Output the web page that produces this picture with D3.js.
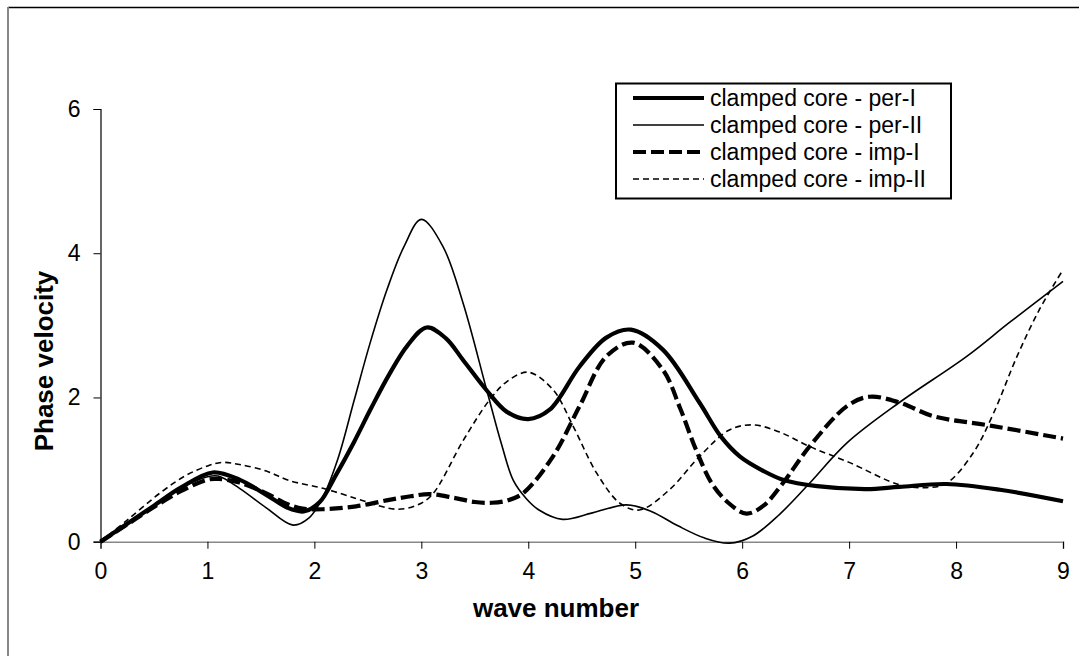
<!DOCTYPE html>
<html>
<head>
<meta charset="utf-8">
<script src="https://cdn.jsdelivr.net/npm/d3@7"></script>
<style>
  html, body { margin: 0; padding: 0; background: #fff; }
  svg { display: block; font-family: "Liberation Sans", Arial, sans-serif; }
</style>
</head>
<body>
<svg id="chart" width="1079" height="656"></svg>
<script>
// ---- data ----
const xTicks = [0, 1, 2, 3, 4, 5, 6, 7, 8, 9];
const yTicks = [0, 2, 4, 6];
const xTitle = "wave number";
const yTitle = "Phase velocity";
const seriesNames = ["clamped core - per-I", "clamped core - per-II", "clamped core - imp-I", "clamped core - imp-II"];

const perI = [[0,0],[0.25,0.25],[0.5,0.5],[0.75,0.75],[1.05,0.96],[1.3,0.86],[1.55,0.65],[1.75,0.47],[1.9,0.42],[2.05,0.55],[2.2,0.92],[2.37,1.38],[2.53,1.85],[2.7,2.32],[2.87,2.72],[3.05,2.97],[3.23,2.82],[3.39,2.52],[3.61,2.1],[3.8,1.8],[4.0,1.7],[4.2,1.83],[4.48,2.43],[4.73,2.83],[4.96,2.94],[5.26,2.66],[5.6,1.93],[5.8,1.46],[5.98,1.18],[6.2,0.98],[6.38,0.86],[6.7,0.77],[7.16,0.73],[7.47,0.76],[7.91,0.8],[8.41,0.72],[9.0,0.56]];

const perII = [[0,0],[0.25,0.25],[0.5,0.5],[0.75,0.74],[1.0,0.9],[1.1,0.91],[1.3,0.74],[1.55,0.47],[1.8,0.23],[1.95,0.33],[2.08,0.62],[2.22,1.15],[2.37,1.95],[2.52,2.75],[2.68,3.5],[2.84,4.1],[3.0,4.47],[3.2,4.1],[3.39,3.31],[3.61,2.11],[3.75,1.35],[3.86,0.85],[3.98,0.6],[4.1,0.44],[4.32,0.31],[4.6,0.4],[4.92,0.51],[5.15,0.42],[5.4,0.22],[5.65,0.05],[5.88,-0.02],[6.1,0.08],[6.35,0.38],[6.63,0.81],[6.98,1.37],[7.47,1.93],[8.1,2.57],[8.5,3.04],[9.0,3.61]];

const impI = [[0,0],[0.25,0.24],[0.5,0.48],[0.75,0.7],[1.0,0.86],[1.1,0.87],[1.3,0.82],[1.55,0.67],[1.75,0.52],[1.89,0.46],[2.08,0.45],[2.39,0.49],[2.7,0.58],[2.9,0.63],[3.08,0.66],[3.3,0.61],[3.5,0.55],[3.66,0.54],[3.8,0.57],[3.95,0.67],[4.23,1.18],[4.48,1.88],[4.73,2.57],[4.98,2.76],[5.26,2.38],[5.42,1.85],[5.57,1.27],[5.72,0.8],[5.87,0.54],[6.04,0.39],[6.2,0.5],[6.38,0.81],[6.63,1.32],[6.98,1.88],[7.19,2.01],[7.47,1.93],[7.79,1.74],[8.32,1.61],[9.0,1.43]];

const impII = [[0,0],[0.25,0.3],[0.57,0.69],[0.8,0.92],[1.0,1.05],[1.14,1.1],[1.3,1.07],[1.55,0.98],[1.76,0.85],[2.08,0.74],[2.39,0.6],[2.6,0.5],[2.77,0.45],[2.95,0.5],[3.1,0.65],[3.39,1.4],[3.64,1.97],[3.8,2.22],[4.0,2.35],[4.23,2.11],[4.42,1.6],[4.64,0.95],[4.86,0.53],[5.04,0.44],[5.32,0.72],[5.6,1.18],[5.88,1.55],[6.1,1.62],[6.35,1.52],[6.63,1.32],[7.0,1.1],[7.47,0.79],[7.72,0.75],[7.91,0.81],[8.16,1.23],[8.35,1.78],[8.57,2.57],[8.78,3.22],[9.0,3.77]];

const seriesData = [perI, perII, impI, impII];
const seriesStyle = [
  {w: 4.2, dash: null},
  {w: 1.6, dash: null},
  {w: 4.2, dash: "13,5"},
  {w: 1.6, dash: "6,4"}
];

// ---- layout ----
const svg = d3.select("#chart");
const x = d3.scaleLinear().domain([0, 9]).range([100.5, 1063]);
const y = d3.scaleLinear().domain([0, 6]).range([541.7, 109]);

// outer chart border (top and left visible)
svg.append("line").attr("x1", 8).attr("x2", 1079).attr("y1", 7.5).attr("y2", 7.5)
  .attr("stroke", "#000").attr("stroke-width", 1.3);
svg.append("line").attr("x1", 8).attr("x2", 8).attr("y1", 7).attr("y2", 656)
  .attr("stroke", "#888").attr("stroke-width", 2);

// x axis
const gx = svg.append("g").attr("transform", `translate(0,${y(0)})`)
  .call(d3.axisBottom(x).tickValues(xTicks).tickSize(7).tickPadding(14).tickFormat(d3.format("d")));
gx.select(".domain").attr("stroke", "#888").attr("stroke-width", 1.6);
gx.selectAll(".tick line").attr("stroke", "#000").attr("stroke-width", 1);
gx.selectAll(".tick text").attr("font-size", 23).attr("fill", "#000")
  .attr("font-family", "Liberation Sans, Arial, sans-serif");

// y axis
const gy = svg.append("g").attr("transform", `translate(${x(0)},0)`)
  .call(d3.axisLeft(y).tickValues(yTicks).tickSize(7).tickPadding(13).tickFormat(d3.format("d")));
gy.select(".domain").attr("stroke", "#000").attr("stroke-width", 1.2);
gy.selectAll(".tick line").attr("stroke", "#000").attr("stroke-width", 1);
gy.selectAll(".tick text").attr("font-size", 23).attr("fill", "#000")
  .attr("font-family", "Liberation Sans, Arial, sans-serif");

// axis titles
svg.append("text").attr("x", 556).attr("y", 617).attr("text-anchor", "middle")
  .attr("font-size", 26).attr("font-weight", "bold").text(xTitle);
svg.append("text").attr("transform", "translate(53,361) rotate(-90)").attr("text-anchor", "middle")
  .attr("font-size", 26).attr("font-weight", "bold").text(yTitle);

// lines
const line = d3.line().x(d => x(d[0])).y(d => y(d[1])).curve(d3.curveCatmullRom.alpha(0.5));
seriesData.forEach((s, i) => {
  svg.append("path").datum(s).attr("d", line).attr("fill", "none")
    .attr("stroke", "#000").attr("stroke-width", seriesStyle[i].w)
    .attr("stroke-dasharray", seriesStyle[i].dash)
    .attr("stroke-linejoin", "round");
});

// legend
const lg = svg.append("g");
lg.append("rect").attr("x", 616).attr("y", 83.5).attr("width", 335).attr("height", 115)
  .attr("fill", "#fff").attr("stroke", "#000").attr("stroke-width", 2);
seriesNames.forEach((n, i) => {
  const yy = 98 + i * 27;
  lg.append("line").attr("x1", 633).attr("x2", 704).attr("y1", yy).attr("y2", yy)
    .attr("stroke", "#000").attr("stroke-width", seriesStyle[i].w)
    .attr("stroke-dasharray", seriesStyle[i].dash);
  lg.append("text").attr("x", 710).attr("y", yy + 8).attr("font-size", 23).text(n);
});
</script>
</body>
</html>
